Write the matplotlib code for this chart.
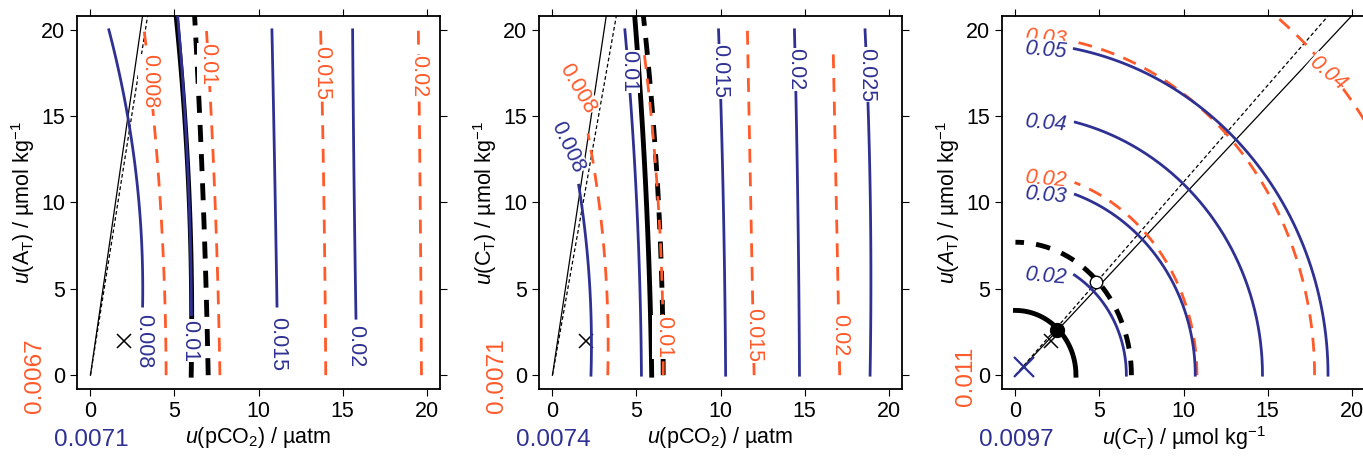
import numpy as np
import matplotlib
matplotlib.use("Agg")
import matplotlib.pyplot as plt

plt.rcParams["font.family"] = ["Liberation Sans", "DejaVu Sans"]
plt.rcParams["mathtext.fontset"] = "custom"
plt.rcParams["mathtext.rm"] = "Liberation Sans"
plt.rcParams["mathtext.it"] = "Liberation Sans:italic"

BLUE = "#2E3192"
ORANGE = "#FF5A2A"

# contour lines: (level label, y samples, x samples, label position (x, y), rotation)
# panel 1: u(pCO2) vs u(AT)
p1_blue = [
    ("0.008", [4, 10, 15, 20], [3.1, 2.9, 2.2, 1.1], (3.15, 2.0)),
    ("0.01", [3.5, 5, 10, 15, 20.8], [6.0, 6.0, 5.9, 5.6, 5.2], (5.9, 2.0)),
    ("0.015", [4, 10, 15, 20], [11.1, 11.0, 10.9, 10.8], (11.15, 1.8)),
    ("0.02", [3.3, 10, 20], [15.8, 15.7, 15.6], (15.8, 1.7)),
]
p1_orange = [
    ("0.008", [0, 5, 10, 14, 20], [4.5, 4.4, 4.2, 3.8, 3.2], (3.5, 17.0)),
    ("0.01", [0, 5, 10, 15, 20], [7.7, 7.6, 7.4, 7.2, 6.9], (7.0, 18.0)),
    ("0.015", [0, 10, 15, 20], [14.0, 13.9, 13.8, 13.7], (13.75, 17.5)),
    ("0.02", [0, 10, 15, 20], [19.7, 19.6, 19.6, 19.5], (19.55, 17.3)),
]
p1_black_solid = ([0, 5, 10, 15, 20.8], [6.0, 6.0, 5.9, 5.6, 5.1])
p1_black_dash = ([0, 5, 10, 15, 20.8], [7.0, 6.9, 6.7, 6.5, 6.2])
p1_thin = (3.1, 3.4)
p1_corner = ("0.0067", "0.0071")

# panel 2: u(pCO2) vs u(CT)
p2_blue = [
    ("0.008", [0, 5, 10, 11], [2.3, 2.2, 1.8, 1.5], (0.9, 13.2), -65),
    ("0.01", [0, 5, 10, 15.5, 20], [5.3, 5.2, 5.0, 4.7, 4.3], (4.55, 17.6), -90),
    ("0.015", [0, 10, 15, 20], [10.3, 10.2, 10.0, 9.9], (9.95, 17.6), -90),
    ("0.02", [0, 10, 15.5, 20], [14.7, 14.6, 14.5, 14.4], (14.45, 17.7), -90),
    ("0.025", [0, 15, 20], [18.9, 18.8, 18.6], (18.7, 17.4), -90),
]
p2_orange = [
    ("0.008", [0, 5, 10, 14], [3.3, 3.2, 2.8, 2.1], (1.5, 16.6), -60),
    ("0.01", [0, 5, 10, 15, 19], [6.6, 6.5, 6.3, 5.9, 5.4], (6.6, 2.2), -90),
    ("0.015", [0, 5, 10, 20], [12.0, 11.9, 11.8, 11.6], (12.0, 2.3), -90),
    ("0.02", [0, 4, 10, 19], [17.1, 17.0, 16.9, 16.7], (17.1, 2.3), -90),
]
p2_black_solid = ([0, 5, 10, 15, 20.8], [5.9, 5.8, 5.6, 5.3, 4.9])
p2_black_dash = ([0, 5, 10, 15, 20.8], [6.6, 6.5, 6.3, 6.0, 5.4])
p2_thin = (3.2, 3.8)
p2_corner = ("0.0071", "0.0074")

# panel 3: u(CT) vs u(AT), near-elliptic contours (semi-axis x, semi-axis y)
p3_blue = [("0.02", 6.6, 6.85), ("0.03", 10.7, 11.1), ("0.04", 14.7, 15.1), ("0.05", 18.6, 19.25)]
p3_orange = [("0.02", 10.8, 11.8), ("0.03", 17.8, 19.7)]
p3_orange_far = ("0.04", 25.0, 26.5)
p3_black = [(3.6, 3.75, "-"), (6.9, 7.7, (0, (3, 2.5)))]
p3_thin = (20.0, 18.6)
p3_points = {"filled": (2.5, 2.6), "open": (4.8, 5.4), "x": (2.1, 2.0), "bx": (0.5, 0.5)}
p3_corner = ("0.011", "0.0097")

FS = 15.5
fig = plt.figure(figsize=(13.63, 4.59), dpi=100)
W, H = 1363, 459
lefts = [77, 539, 1002]
axes = [fig.add_axes([l / W, 1 - 389 / H, 363 / W, 373 / H]) for l in lefts]

DASH = (0, (5, 3.5))
LW = 2.0


def smooth(ys, xs):
    # smooth polyline through read points
    ys = np.asarray(ys, float)
    xs = np.asarray(xs, float)
    deg = min(2, len(ys) - 1)
    c = np.polyfit(ys, xs, deg)
    yy = np.linspace(ys.min(), ys.max(), 100)
    return np.polyval(c, yy), yy


def style(ax, xlabel, ylabel, corner, ox=-0.116):
    ax.set_xlim(-0.8, 20.8)
    ax.set_ylim(-0.8, 20.8)
    ax.set_xticks([0, 5, 10, 15, 20])
    ax.set_yticks([0, 5, 10, 15, 20])
    ax.tick_params(direction="out", length=5, labelsize=FS, top=True, right=True,
                   labeltop=False, labelright=False)
    for s in ax.spines.values():
        s.set_linewidth(1.3)
    ax.set_xlabel(xlabel, fontsize=FS, labelpad=2)
    ax.set_ylabel(ylabel, fontsize=FS, labelpad=3)
    ax.text(ox, 0.035, corner[0], transform=ax.transAxes, color=ORANGE, fontsize=FS + 2,
            rotation=90, ha="center", va="center")
    ax.text(0.04, -0.137, corner[1], transform=ax.transAxes, color=BLUE, fontsize=FS + 2,
            ha="center", va="center")


def clabel(ax, txt, pos, color, rot, italic=False):
    ax.text(pos[0], pos[1], txt, color=color, fontsize=FS, rotation=rot, ha="center",
            va="center", style="italic" if italic else "normal", zorder=5,
            bbox=dict(facecolor="white", edgecolor="none", pad=0.5))


def vertical_panel(ax, blue, orange, bsolid, bdash, thin):
    ax.plot(thin[0] * np.array([0, 1]), [0, 20.8], color="black", lw=0.9)
    ax.plot(thin[1] * np.array([0, 1]), [0, 20.8], color="black", lw=0.9, ls=(0, (3, 2)))
    ax.plot(*smooth(*bsolid), color="black", lw=3.5)
    ax.plot(*smooth(*bdash), color="black", lw=3.5, ls=(0, (3.5, 2.5)))
    for item in blue:
        ax.plot(*smooth(item[1], item[2]), color=BLUE, lw=LW, zorder=4)
        clabel(ax, item[0], item[3], BLUE, item[4] if len(item) > 4 else -90)
    for item in orange:
        ax.plot(*smooth(item[1], item[2]), color=ORANGE, lw=LW, ls=DASH, zorder=4)
        clabel(ax, item[0], item[3], ORANGE, item[4] if len(item) > 4 else -90)
    ax.plot([2], [2], marker="x", color="black", ms=10, mew=1.1)


ax1, ax2, ax3 = axes
vertical_panel(ax1, p1_blue, p1_orange, p1_black_solid, p1_black_dash, p1_thin)
style(ax1, r"$u$(pCO$_2$) / µatm", r"$u$(A$_\mathrm{T}$) / µmol kg$^{-1}$", p1_corner)
vertical_panel(ax2, p2_blue, p2_orange, p2_black_solid, p2_black_dash, p2_thin)
style(ax2, r"$u$(pCO$_2$) / µatm", r"$u$(C$_\mathrm{T}$) / µmol kg$^{-1}$", p2_corner)

# panel 3
t = np.linspace(0, np.pi / 2, 200)
ax3.plot([0, 20.8], [0, 20.8 * 20.8 / p3_thin[0]], color="black", lw=0.9)
ax3.plot([0, p3_thin[1]], [0, 20.8], color="black", lw=0.9, ls=(0, (3, 2)))
for a, b, ls in p3_black:
    ax3.plot(a * np.cos(t), b * np.sin(t), color="black", lw=3.5, ls=ls)
for lab, a, b in p3_blue:
    tt = t[a * np.cos(t) >= 3.5]
    ax3.plot(a * np.cos(tt), b * np.sin(tt), color=BLUE, lw=LW, zorder=4)
    yl = b * np.sqrt(1 - (3.5 / a) ** 2)
    clabel(ax3, lab, (1.8, yl - 0.1), BLUE, -5, italic=True)
for lab, a, b in p3_orange:
    tt = t[a * np.cos(t) >= 3.5]
    ax3.plot(a * np.cos(tt), b * np.sin(tt), color=ORANGE, lw=LW, ls=DASH, zorder=3)
    yl = b * np.sqrt(1 - (3.5 / a) ** 2)
    ax3.text(1.8, yl + 0.2, lab, color=ORANGE, fontsize=FS, rotation=-5, ha="center",
             va="center", style="italic", zorder=3)
lab, a, b = p3_orange_far
tt = np.linspace(0, np.pi / 2, 400)
ax3.plot(a * np.cos(tt), b * np.sin(tt), color=ORANGE, lw=LW, ls=DASH, zorder=4)
clabel(ax3, lab, (18.6, 17.5), ORANGE, -40, italic=True)
ax3.plot(*p3_points["filled"], marker="o", color="black", ms=10, zorder=6)
ax3.plot(*p3_points["open"], marker="o", mfc="white", mec="black", ms=9, zorder=6)
ax3.plot(*p3_points["x"], marker="x", color="black", ms=10, mew=1.1, zorder=6)
ax3.plot(*p3_points["bx"], marker="x", color=BLUE, ms=14, mew=1.6, zorder=6)
style(ax3, r"$u$($C_\mathrm{T}$) / µmol kg$^{-1}$", r"$u$($A_\mathrm{T}$) / µmol kg$^{-1}$",
      p3_corner, ox=-0.10)

fig.savefig("out.png", dpi=100)
